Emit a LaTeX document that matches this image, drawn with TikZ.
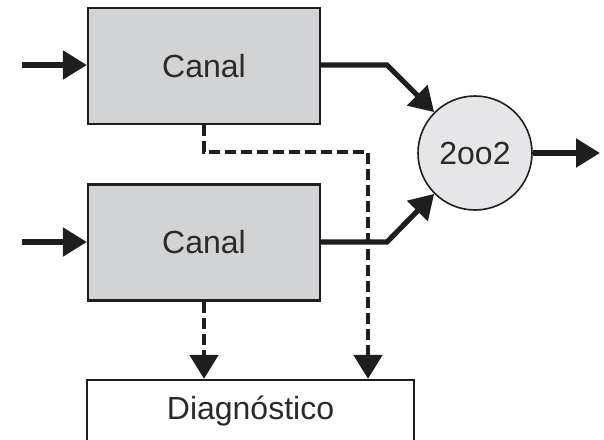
\documentclass[tikz,border=0pt]{standalone}
\usepackage{fontspec}
\setmainfont{Liberation Sans}
\usetikzlibrary{arrows.meta,calc}
\definecolor{boxgray}{HTML}{D2D3D5}
\definecolor{circgray}{HTML}{E6E6E8}
\definecolor{ink}{HTML}{1E1E1E}
\definecolor{txt}{HTML}{2A2A2A}
\tikzset{
  chanbox/.style={draw=ink,line width=1.1pt,fill=boxgray,minimum width=116pt,minimum height=58pt,inner sep=0pt,text=txt,font=\fontsize{16}{19}\selectfont},
  diagbox/.style={draw=ink,line width=1.1pt,fill=white,minimum width=163.5pt,minimum height=31pt,inner sep=0pt,text=txt,font=\fontsize{16}{19}\selectfont},
  votecirc/.style={circle,draw=ink,line width=0.8pt,fill=circgray,minimum size=57pt,inner sep=0pt,text=txt,font=\fontsize{16}{19}\selectfont},
  tip/.style={-{Triangle[length=12pt,width=14pt]}},
  sig/.style={tip,line width=2.6pt,draw=ink},
  diagline/.style={tip,line width=2.4pt,draw=ink,dash pattern=on 5.5pt off 2.5pt},
}
\begin{document}
\begin{tikzpicture}[x=0.5pt,y=-0.5pt]
\useasboundingbox (0,0) rectangle (604,439);
\node[chanbox] (c1) at (204,66) {Canal};
\node[chanbox] (c2) at (204,242.5) {Canal};
\node[votecirc] (v) at (475,153) {2oo2};
\node[diagbox] (d) at (250.5,411) {Diagnóstico};
\coordinate (in1) at (22,65);
\coordinate (in2) at (22,242);
\coordinate (out) at (600,153);
\coordinate (k1) at (387,65);
\coordinate (k2) at (387,242);
\coordinate (j1) at (204,152);
\coordinate (j2) at (368,152);
\draw[sig] (in1) -- (c1.west |- in1);
\draw[sig] (in2) -- (c2.west |- in2);
\draw[sig] (v.east) -- (out);
\draw[diagline] (c1.south) -- (j1) -- (j2) -- (j2 |- d.north);
\draw[diagline] (c2.south) -- (d.north -| c2.south);
\draw[sig] (c1.east |- k1) -- (k1) -- (v.135);
\draw[sig] (c2.east |- k2) -- (k2) -- (v.-135);
\end{tikzpicture}
\end{document}
